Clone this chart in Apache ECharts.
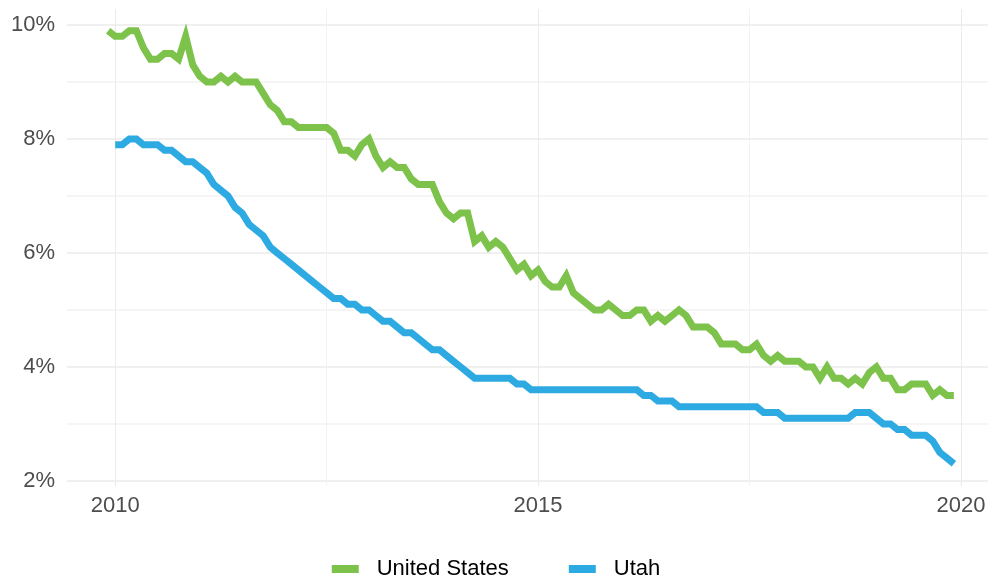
<!DOCTYPE html>
<html>
<head>
<meta charset="utf-8">
<title>Unemployment rate: United States vs Utah</title>
<script src="https://cdn.jsdelivr.net/npm/echarts@6/dist/echarts.min.js"></script>
<style>
  html, body { margin: 0; padding: 0; background: #fff; }
  #chart { width: 992px; height: 580px; }
</style>
</head>
<body>
<div id="chart"></div>
<script>
// monthly unemployment rate, %, seasonally adjusted
// United States: Dec 2009 .. Dec 2019
const usStart = [2009, 12]
const usRate = [
  9.9,
  9.8, 9.8, 9.9, 9.9, 9.6, 9.4, 9.4, 9.5, 9.5, 9.4, 9.8, 9.3,
  9.1, 9.0, 9.0, 9.1, 9.0, 9.1, 9.0, 9.0, 9.0, 8.8, 8.6, 8.5,
  8.3, 8.3, 8.2, 8.2, 8.2, 8.2, 8.2, 8.1, 7.8, 7.8, 7.7, 7.9,
  8.0, 7.7, 7.5, 7.6, 7.5, 7.5, 7.3, 7.2, 7.2, 7.2, 6.9, 6.7,
  6.6, 6.7, 6.7, 6.2, 6.3, 6.1, 6.2, 6.1, 5.9, 5.7, 5.8, 5.6,
  5.7, 5.5, 5.4, 5.4, 5.6, 5.3, 5.2, 5.1, 5.0, 5.0, 5.1, 5.0,
  4.9, 4.9, 5.0, 5.0, 4.8, 4.9, 4.8, 4.9, 5.0, 4.9, 4.7, 4.7,
  4.7, 4.6, 4.4, 4.4, 4.4, 4.3, 4.3, 4.4, 4.2, 4.1, 4.2, 4.1,
  4.1, 4.1, 4.0, 4.0, 3.8, 4.0, 3.8, 3.8, 3.7, 3.8, 3.7, 3.9,
  4.0, 3.8, 3.8, 3.6, 3.6, 3.7, 3.7, 3.7, 3.5, 3.6, 3.5, 3.5
]

// Utah: Jan 2010 .. Dec 2019
const utahStart = [2010, 1]
const utahRate = [
  7.9, 7.9, 8.0, 8.0, 7.9, 7.9, 7.9, 7.8, 7.8, 7.7, 7.6, 7.6,
  7.5, 7.4, 7.2, 7.1, 7.0, 6.8, 6.7, 6.5, 6.4, 6.3, 6.1, 6.0,
  5.9, 5.8, 5.7, 5.6, 5.5, 5.4, 5.3, 5.2, 5.2, 5.1, 5.1, 5.0,
  5.0, 4.9, 4.8, 4.8, 4.7, 4.6, 4.6, 4.5, 4.4, 4.3, 4.3, 4.2,
  4.1, 4.0, 3.9, 3.8, 3.8, 3.8, 3.8, 3.8, 3.8, 3.7, 3.7, 3.6,
  3.6, 3.6, 3.6, 3.6, 3.6, 3.6, 3.6, 3.6, 3.6, 3.6, 3.6, 3.6,
  3.6, 3.6, 3.6, 3.5, 3.5, 3.4, 3.4, 3.4, 3.3, 3.3, 3.3, 3.3,
  3.3, 3.3, 3.3, 3.3, 3.3, 3.3, 3.3, 3.3, 3.2, 3.2, 3.2, 3.1,
  3.1, 3.1, 3.1, 3.1, 3.1, 3.1, 3.1, 3.1, 3.1, 3.2, 3.2, 3.2,
  3.1, 3.0, 3.0, 2.9, 2.9, 2.8, 2.8, 2.8, 2.7, 2.5, 2.4, 2.3
]

const seriesNames = ['United States', 'Utah']
const seriesColors = ['#7DC24B', '#2EAAE3']

// tick positions (major + minor grid) and labelled ticks
const xGridValues = [2010, 2012.5, 2015, 2017.5, 2020]
const xLabelValues = [2010, 2015, 2020]
const yGridValues = [2, 3, 4, 5, 6, 7, 8, 9, 10]
const yLabelValues = [2, 4, 6, 8, 10]

// month index -> decimal year on the x axis
const toPoints = (start, values) =>
  values.map((v, i) => [start[0] + (start[1] - 1 + i) / 12, v])

const chart = echarts.init(document.getElementById('chart'))

const gridColor = '#EBEBEB'
const minorColor = '#F2F2F2'
const labelColor = '#4D4D4D'
const fontFamily = 'Liberation Sans, Arial, sans-serif'

const option = {
  animation: false,
  grid: { left: 67, right: 4, top: 9, bottom: 94 },
  xAxis: {
    type: 'value',
    min: 2009.43,
    max: 2020.32,
    axisLine: { show: false },
    axisTick: { show: false, customValues: xGridValues },
    axisLabel: {
      customValues: xLabelValues,
      margin: 9,
      color: labelColor,
      fontSize: 22,
      fontFamily,
      formatter: v => String(v)
    },
    splitLine: {
      show: true,
      lineStyle: { color: [gridColor, minorColor], width: 1 }
    }
  },
  yAxis: {
    type: 'value',
    min: 1.91,
    max: 10.28,
    axisLine: { show: false },
    axisTick: { show: false, customValues: yGridValues },
    axisLabel: {
      customValues: yLabelValues,
      margin: 12,
      color: labelColor,
      fontSize: 22,
      fontFamily,
      formatter: v => v + '%'
    },
    splitLine: {
      show: true,
      lineStyle: { color: [gridColor, minorColor], width: 1.5 }
    }
  },
  legend: {
    data: seriesNames,
    left: 'center',
    bottom: -5,
    icon: 'rect',
    itemWidth: 27,
    itemHeight: 8,
    itemGap: 60,
    textStyle: {
      color: '#000',
      fontSize: 22,
      fontFamily,
      padding: [0, 0, 0, 13]
    }
  },
  series: [
    {
      name: seriesNames[0],
      type: 'line',
      data: toPoints(usStart, usRate),
      showSymbol: false,
      lineStyle: { width: 7, color: seriesColors[0], join: 'miter' },
      itemStyle: { color: seriesColors[0] }
    },
    {
      name: seriesNames[1],
      type: 'line',
      data: toPoints(utahStart, utahRate),
      showSymbol: false,
      lineStyle: { width: 7, color: seriesColors[1], join: 'miter' },
      itemStyle: { color: seriesColors[1] }
    }
  ]
}

chart.setOption(option)
window.addEventListener('resize', () => chart.resize())
</script>
</body>
</html>
